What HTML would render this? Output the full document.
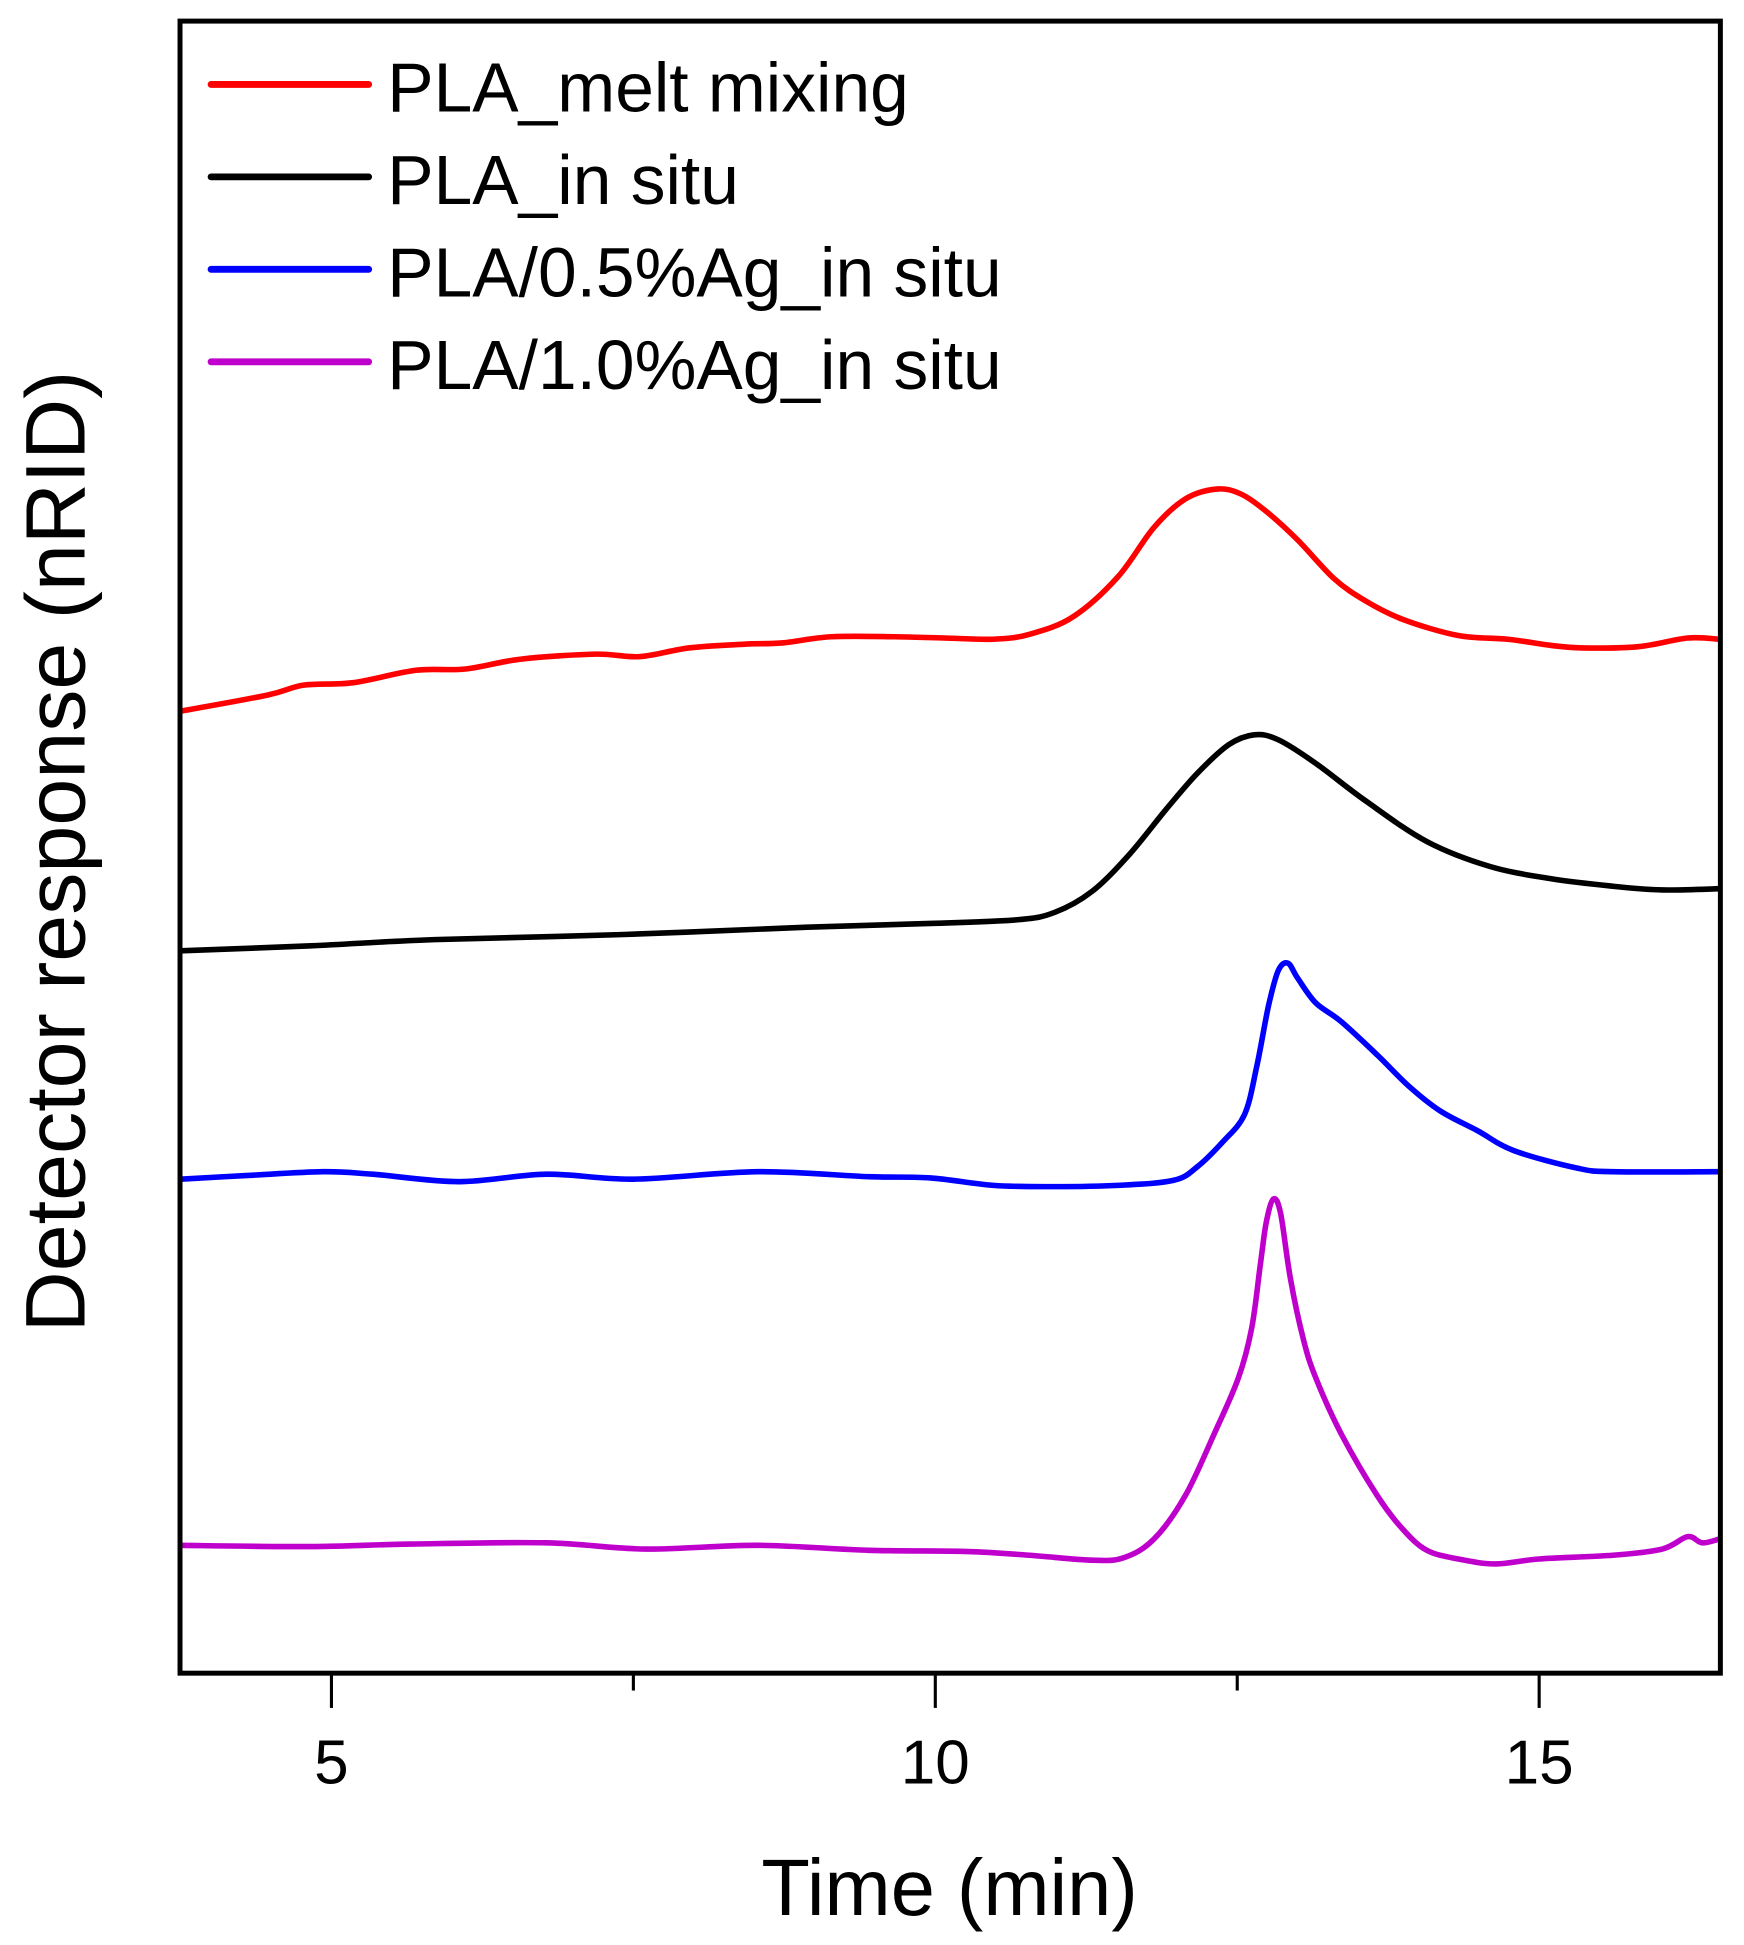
<!DOCTYPE html>
<html><head><meta charset="utf-8"><style>html,body{margin:0;padding:0;background:#fff}svg{display:block}</style></head>
<body>
<svg width="1744" height="1945" viewBox="0 0 1405 1567" xmlns="http://www.w3.org/2000/svg" font-family="'Liberation Sans', sans-serif">
<g id="plot"></g>
</svg>
<script>
const redT=[3.75,4.47,4.77,5.18,5.70,6.11,6.57,7.19,7.55,7.96,8.42,8.73,9.14,9.66,10.07,10.48,10.78,11.14,11.51,11.81,12.07,12.33,12.53,12.74,13.00,13.30,13.56,13.87,14.33,14.74,15.10,15.36,15.82,16.23,16.49];
const redV=[775,788,796,798,808,809,817,821,819,826,829,830,835,835,834,833,837,851,883,923,946,954,950,936,913,882,864,849,836,833,828,826,827,834,833];
const blackT=[3.75,4.83,5.85,7.39,8.94,9.96,10.68,10.99,11.30,11.61,11.92,12.17,12.43,12.64,12.84,13.15,13.56,14.07,14.59,15.10,15.61,16.02,16.49];
const blackV=[582,586,591,595,601,604,607,613,630,660,697,725,748,756,752,733,703,670,650,640,634,631,632];
const blueT=[3.75,4.31,4.93,5.34,6.06,6.78,7.50,8.53,9.45,9.96,10.48,10.99,11.51,11.97,12.17,12.38,12.56,12.66,12.76,12.84,12.92,13.00,13.15,13.36,13.66,13.92,14.18,14.49,14.79,15.31,15.61,16.49];
const blueV=[398,401,404,402,396,402,398,404,400,399,393,392,393,397,408,428,450,488,538,566,572,560,540,525,498,473,453,437,421,407,404,404];
const magT=[3.75,4.83,5.65,6.78,7.60,8.53,9.45,10.27,10.78,11.30,11.56,11.81,12.07,12.31,12.51,12.62,12.69,12.74,12.80,12.86,12.94,13.05,13.15,13.36,13.66,13.87,14.07,14.33,14.64,15.00,15.61,16.02,16.23,16.35,16.49];
const magV=[103,102,104,105,100,103,99,98,95,91,93,108,143,193,238,278,328,363,382,370,318,268,238,193,143,116,99,92,88,92,95,100,110,105,108];
const xTicks=[5,10,15];
const xMinor=[7.5,12.5];
const legendLabels=["PLA_melt mixing","PLA_in situ","PLA/0.5%Ag_in situ","PLA/1.0%Ag_in situ"];
const colors=["#ff0000","#000000","#0000ff","#bf00cc"];

const L=145,R=1386,T=17,B=1348;
const xs=t=>267+(t-5)*97.3;
const ys=v=>B-v;
const NS="http://www.w3.org/2000/svg";
const g=document.getElementById('plot');
function mk(tag,attrs){const e=document.createElementNS(NS,tag);for(const k in attrs)e.setAttribute(k,attrs[k]);g.appendChild(e);return e;}
function smooth(pts){
  let d='M'+pts[0][0].toFixed(1)+','+pts[0][1].toFixed(1);
  for(let i=0;i<pts.length-1;i++){
    const p0=pts[i-1]||pts[i],p1=pts[i],p2=pts[i+1],p3=pts[i+2]||p2;
    const c1=[p1[0]+(p2[0]-p0[0])/6,p1[1]+(p2[1]-p0[1])/6];
    const c2=[p2[0]-(p3[0]-p1[0])/6,p2[1]-(p3[1]-p1[1])/6];
    d+=' C'+c1[0].toFixed(1)+','+c1[1].toFixed(1)+' '+c2[0].toFixed(1)+','+c2[1].toFixed(1)+' '+p2[0].toFixed(1)+','+p2[1].toFixed(1);
  }
  return d;
}
const series=[[redT,redV,"series-pla-melt-mixing"],[blackT,blackV,"series-pla-in-situ"],[blueT,blueV,"series-pla-05ag-in-situ"],[magT,magV,"series-pla-10ag-in-situ"]];
series.forEach((s,i)=>{
  const pts=s[0].map((t,j)=>[xs(t),ys(s[1][j])]);
  const p=mk('path',{d:smooth(pts),fill:'none',stroke:colors[i],'stroke-width':4.5,'stroke-linejoin':'round','stroke-linecap':'round'});
  
  
});
const fr=mk('rect',{x:L,y:T,width:R-L,height:B-T,fill:'none',stroke:'#000','stroke-width':4});


xTicks.forEach(t=>{
  const l=mk('line',{x1:xs(t),x2:xs(t),y1:B,y2:B+28,stroke:'#000','stroke-width':2.5});
  
  
  const tx=mk('text',{x:xs(t),y:1437,'font-size':50,'text-anchor':'middle',fill:'#000'});
  tx.textContent=t;
  
  
});
xMinor.forEach(t=>{
  const l=mk('line',{x1:xs(t),x2:xs(t),y1:B,y2:B+14,stroke:'#000','stroke-width':2.5});
  
  
});
legendLabels.forEach((lab,i)=>{
  const y=68+i*74.5;
  const l=mk('line',{x1:170,x2:297,y1:y,y2:y,stroke:colors[i],'stroke-width':5.5,'stroke-linecap':'round'});
  
  
  const tx=mk('text',{x:312,y:y+22,'font-size':56,fill:'#000'});
  tx.textContent=lab;
  
  
});
const xt=mk('text',{x:765,y:1543,'font-size':64,'text-anchor':'middle',fill:'#000'});
xt.textContent='Time (min)';


const yt=mk('text',{x:0,y:0,'font-size':68,'text-anchor':'middle',fill:'#000',transform:'translate(68,686) rotate(-90)'});
yt.textContent='Detector response (nRID)';


</script>
</body></html>
